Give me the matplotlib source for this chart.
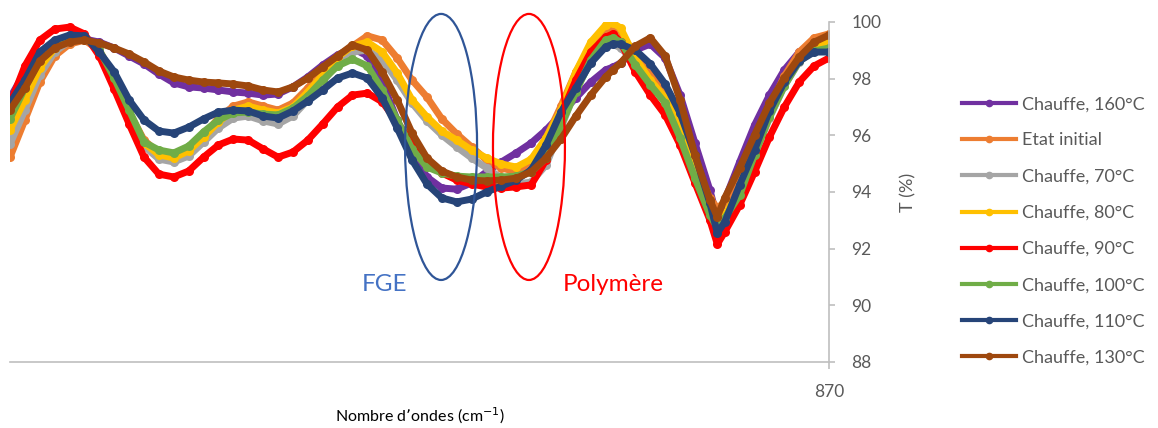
import matplotlib
matplotlib.use("Agg")
import matplotlib.pyplot as plt
from matplotlib.patches import Ellipse
from matplotlib.lines import Line2D

plt.rcParams['font.family'] = ['Lato', 'DejaVu Sans']

# nombre d'ondes (cm-1), axe inversé
wn = sorted(list(range(870, 1201, 6)) + [957, 915], reverse=True)

t_160 = [97.32, 98.24, 98.94, 99.22, 99.36, 99.40, 99.29, 99.08, 98.80, 98.52,
         98.16, 97.85, 97.71, 97.67, 97.60, 97.53, 97.49, 97.42, 97.46, 97.71,
         98.06, 98.48, 98.84, 99.08, 98.80, 97.88, 96.54, 95.41, 94.53, 94.14,
         94.10, 94.32, 94.71, 95.06, 95.38, 95.73, 96.19, 96.75, 97.32, 97.88,
         98.31, 98.41, 98.55, 99.01, 99.22, 98.73, 97.42, 95.73, 94.07, 93.08,
         93.72, 95.06, 96.36, 97.42, 98.31, 98.94, 99.29, 99.44]
t_init = [95.23, 96.54, 97.88, 98.80, 99.22, 99.36, 99.01, 98.02, 96.82, 95.83,
          95.38, 95.27, 95.48, 96.01, 96.61, 97.03, 97.18, 97.03, 96.89, 97.14,
          97.67, 98.31, 98.80, 99.15, 99.51, 99.36, 98.73, 97.95, 97.35, 96.58,
          96.05, 95.59, 95.13, 94.85, 94.71, 94.99, 95.91, 97.03, 98.24, 99.15,
          99.72, 99.79, 99.61, 98.84, 98.13, 97.53, 96.36, 94.95, 93.79, 93.43,
          93.65, 94.42, 95.66, 96.96, 98.09, 98.94, 99.44, 99.58]
t_70 = [95.69, 96.89, 98.13, 98.94, 99.33, 99.44, 99.01, 97.95, 96.68, 95.62,
        95.16, 95.06, 95.27, 95.76, 96.26, 96.61, 96.68, 96.51, 96.40, 96.68,
        97.25, 97.88, 98.55, 98.94, 99.01, 98.66, 97.95, 97.14, 96.51, 96.01,
        95.59, 95.20, 94.85, 94.49, 94.28, 94.35, 94.95, 96.26, 97.60, 98.59,
        99.15, 99.22, 99.08, 98.59, 97.88, 97.32, 96.19, 94.71, 93.36, 92.80,
        93.15, 94.00, 95.27, 96.61, 97.74, 98.59, 99.08, 99.22]
t_80 = [96.19, 97.25, 98.38, 99.08, 99.40, 99.47, 98.98, 97.95, 96.75, 95.73,
        95.31, 95.20, 95.45, 95.94, 96.47, 96.89, 97.03, 96.89, 96.79, 97.00,
        97.53, 98.13, 98.76, 99.15, 99.29, 98.94, 98.20, 97.25, 96.65, 96.15,
        95.83, 95.48, 95.20, 94.99, 94.88, 95.16, 95.91, 96.89, 98.24, 99.29,
        99.89, 99.96, 99.79, 98.73, 97.95, 97.32, 96.26, 94.78, 93.43, 92.80,
        93.19, 94.07, 95.38, 96.72, 97.85, 98.73, 99.15, 99.29]
t_90 = [97.10, 98.45, 99.36, 99.75, 99.82, 99.58, 98.80, 97.63, 96.40, 95.23,
        94.63, 94.53, 94.74, 95.23, 95.66, 95.87, 95.83, 95.52, 95.23, 95.41,
        95.83, 96.40, 97.00, 97.42, 97.49, 97.18, 96.47, 95.73, 95.06, 94.67,
        94.42, 94.28, 94.18, 94.14, 94.18, 94.25, 95.13, 96.72, 97.95, 98.94,
        99.47, 99.58, 99.29, 98.24, 97.42, 96.72, 95.66, 94.32, 93.01, 92.16,
        92.59, 93.54, 94.71, 95.94, 97.00, 97.88, 98.45, 98.73]
t_100 = [96.58, 97.67, 98.66, 99.19, 99.44, 99.47, 99.01, 98.02, 96.89, 95.76,
         95.48, 95.38, 95.62, 96.12, 96.54, 96.79, 96.82, 96.75, 96.72, 96.96,
         97.39, 97.95, 98.45, 98.69, 98.45, 97.60, 96.54, 95.52, 94.88, 94.67,
         94.56, 94.53, 94.53, 94.53, 94.56, 94.71, 95.20, 96.36, 97.53, 98.66,
         99.36, 99.44, 99.29, 98.48, 97.78, 97.14, 95.91, 94.49, 93.19, 92.73,
         93.08, 93.89, 95.31, 96.65, 97.74, 98.62, 98.98, 99.08]
t_110 = [97.14, 97.95, 98.94, 99.36, 99.54, 99.51, 98.94, 98.24, 97.25, 96.54,
         96.15, 96.08, 96.29, 96.58, 96.82, 96.89, 96.86, 96.68, 96.61, 96.86,
         97.21, 97.60, 98.02, 98.20, 98.02, 97.32, 96.26, 95.13, 94.28, 93.79,
         93.65, 93.75, 94.00, 94.21, 94.42, 94.78, 95.66, 96.82, 97.67, 98.55,
         99.12, 99.22, 99.22, 99.01, 98.52, 97.81, 96.79, 95.31, 93.61, 92.55,
         92.94, 94.25, 95.48, 96.86, 97.88, 98.62, 98.94, 98.94]
t_130 = [96.89, 97.67, 98.62, 99.08, 99.29, 99.36, 99.26, 99.08, 98.87, 98.59,
         98.27, 98.06, 97.95, 97.88, 97.85, 97.81, 97.74, 97.60, 97.53, 97.71,
         98.02, 98.41, 98.80, 99.19, 99.01, 98.24, 97.25, 96.08, 95.20, 94.74,
         94.53, 94.42, 94.39, 94.42, 94.49, 94.71, 95.20, 95.87, 96.68, 97.42,
         98.06, 98.31, 98.55, 99.15, 99.44, 98.80, 97.25, 95.31, 93.72, 93.12,
         93.79, 94.85, 96.01, 97.14, 98.02, 98.76, 99.29, 99.54]

labels = ["Chauffe, 160°C", "Etat initial", "Chauffe, 70°C", "Chauffe, 80°C",
          "Chauffe, 90°C", "Chauffe, 100°C", "Chauffe, 110°C", "Chauffe, 130°C"]
series = [t_160, t_init, t_70, t_80, t_90, t_100, t_110, t_130]
colors = ["#7030A0", "#ED7D31", "#A5A5A5", "#FFC000",
          "#FF0000", "#70AD47", "#264478", "#9E480E"]

fig = plt.figure(figsize=(11.58, 4.28), dpi=100)
ax = fig.add_axes([10/1158, 1-362/428, 819/1158, 340/428])

for y, c in zip(series, colors):
    ax.plot(wn, y, color=c, lw=5.0, marker='o', markersize=6.5,
            markeredgewidth=0, solid_capstyle='round', solid_joinstyle='round')

ax.set_xlim(1200, 870)
ax.set_ylim(88, 100)
ax.set_xticks([870])
ax.set_yticks(range(88, 101, 2))

grey = "#595959"
for s in ['top', 'left']:
    ax.spines[s].set_visible(False)
for s in ['bottom', 'right']:
    ax.spines[s].set_color("#BFBFBF")
    ax.spines[s].set_linewidth(1.2)
ax.yaxis.tick_right()
ax.yaxis.set_label_position('right')
ax.tick_params(axis='y', colors="#BFBFBF", labelcolor=grey, labelsize=12.5,
               length=4, width=1.2, pad=12)
ax.tick_params(axis='x', colors="#BFBFBF", labelcolor=grey, labelsize=12.5,
               length=5, width=1.2, pad=11)
ax.set_ylabel("T (%)", color=grey, fontsize=13, labelpad=14)
ax.set_xlabel("Nombre d’ondes (cm$^{-1}$)", color="black", fontsize=11.5,
              labelpad=4)

# zones entourées
ax.add_patch(Ellipse((1026.3, 95.59), 29.0, 9.39, fill=False, ec="#2F5597",
                     lw=1.6, clip_on=False, zorder=5))
ax.add_patch(Ellipse((990.9, 95.59), 29.0, 9.39, fill=False, ec="#FF0000",
                     lw=1.6, clip_on=False, zorder=5))
ax.text(1049.3, 90.72, "FGE", color="#4472C4", fontsize=17.5, ha='center', va='center')
ax.text(957, 90.72, "Polymère", color="#FF0000", fontsize=17.5, ha='center', va='center')

handles = [Line2D([], [], color=c, lw=3, marker='o', markersize=4.5) for c in colors]
fig.legend(handles, labels, loc='center left', bbox_to_anchor=(962/1158, 1-231/428),
           frameon=False, fontsize=13, labelcolor=grey, handlelength=3.0,
           handletextpad=0.3, labelspacing=1.12, borderaxespad=0, borderpad=0,
           numpoints=1)

plt.savefig("out.png", dpi=100)
